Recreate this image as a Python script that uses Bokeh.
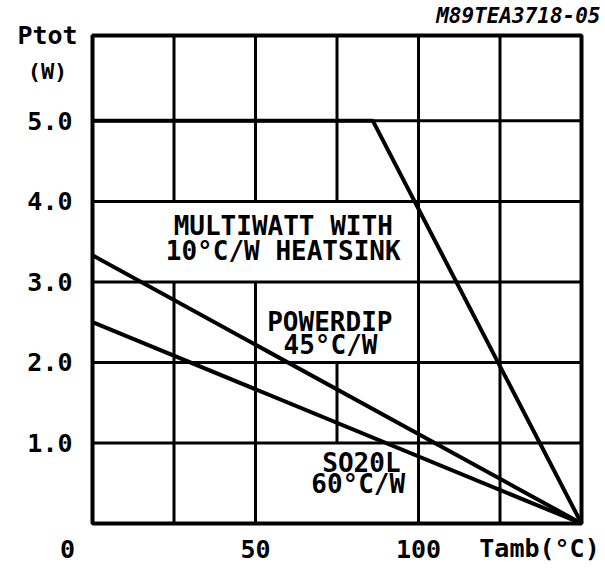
from bokeh.plotting import figure
from bokeh.models import Range1d, ColumnDataSource
from bokeh.core.properties import value
from bokeh.embed import file_html
from bokeh.resources import INLINE

# ---- data ----
multiwatt_x = [0, 86, 150]
multiwatt_y = [5.0, 5.0, 0.0]
powerdip_x = [0, 150]
powerdip_y = [3.33, 0.0]
so20l_x = [0, 150]
so20l_y = [2.5, 0.0]

x_min, x_max = 0, 150
y_min, y_max = 0, 6.06
x_grid = [25, 50, 75, 100, 125]
y_ticks = [1, 2, 3, 4, 5]
y_tick_labels = ["1.0", "2.0", "3.0", "4.0", "5.0"]
x_tick_vals = [50, 100]
x_tick_labels = ["50", "100"]

label_texts = ["MULTIWATT WITH", "10°C/W HEATSINK", "POWERDIP", "45°C/W", "SO20L", "60°C/W"]
label_x = [58.5, 58.5, 72.8, 73.0, 82.5, 81.5]
label_y = [3.69, 3.38, 2.50, 2.22, 0.75, 0.49]

FONT = "DejaVu Sans Mono"

# canvas mapping: frame 0..150 spans 489 px, 0..6.06 spans 488 px
PX_X = 489 / 150.0
PX_Y = 488 / 6.06
W, H = 605, 571
LEFT, RIGHT, TOP, BOTTOM = 92, 24, 35, 48

p = figure(width=W, height=H,
           x_range=Range1d(-LEFT / PX_X, x_max + RIGHT / PX_X),
           y_range=Range1d(-BOTTOM / PX_Y, y_max + TOP / PX_Y),
           output_backend="svg", toolbar_location=None,
           x_axis_location=None, y_axis_location=None,
           min_border=0)
p.outline_line_color = None
p.grid.visible = False
p.background_fill_color = "white"
p.border_fill_color = "white"

# vertical grid lines (drawn below the label boxes)
p.segment(x0=x_grid, x1=x_grid, y0=[y_min] * len(x_grid), y1=[y_max] * len(x_grid),
          line_color="black", line_width=3)

# white boxes behind labels (hide vertical grid lines)
p.quad(left=[0.7, 50.5, 50.5], right=[99.5, 99.5, 99.5],
       bottom=[3, 2, 0], top=[4, 3, 1],
       fill_color="white", line_color=None)

# horizontal grid lines (on top of boxes)
p.segment(x0=[x_min] * len(y_ticks), x1=[x_max] * len(y_ticks), y0=y_ticks, y1=y_ticks,
          line_color="black", line_width=3)

# frame
p.quad(left=[x_min], right=[x_max], bottom=[y_min], top=[y_max],
       fill_color=None, line_color="black", line_width=4)

p.line(multiwatt_x, multiwatt_y, line_color="black", line_width=4)
p.line(powerdip_x, powerdip_y, line_color="black", line_width=4)
p.line(so20l_x, so20l_y, line_color="black", line_width=4)

src = ColumnDataSource(dict(x=label_x, y=label_y, t=label_texts))
p.text(x="x", y="y", text="t", source=src, text_font=value(FONT), text_font_style="bold",
       text_font_size="26px", text_align="center", text_baseline="middle", text_color="black")

def txt(xs, ys, ts, size="25px", style="bold", align="center"):
    p.text(x=xs, y=ys, text=ts, text_font=value(FONT), text_font_style=style,
           text_font_size=size, text_align=align, text_baseline="middle", text_color="black")

# y tick labels, right edge 20 px left of the frame
txt([-20 / PX_X] * len(y_ticks), y_ticks, y_tick_labels, align="right")
# x tick labels
x_lab_y = -25 / PX_Y
txt(x_tick_vals, [x_lab_y] * len(x_tick_vals), x_tick_labels)
txt([-25 / PX_X], [x_lab_y], ["0"])
txt([447 / PX_X], [x_lab_y], ["Tamb(°C)"])
# y axis title
txt([-45 / PX_X], [y_max], ["Ptot"])
txt([-45 / PX_X], [y_max - 36 / PX_Y], ["(W)"], size="22px")
# figure code
txt([x_max + 19 / PX_X], [y_max + 20 / PX_Y], ["M89TEA3718-05"], size="21px",
    style="bold italic", align="right")

open("out.html", "w").write(file_html(p, INLINE))
